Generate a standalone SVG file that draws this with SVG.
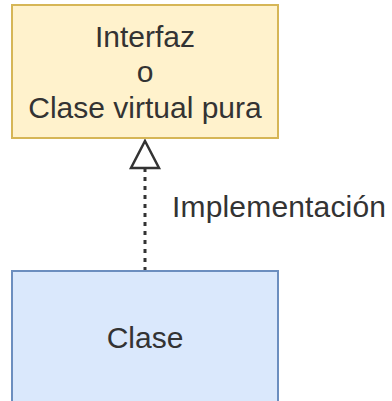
<svg xmlns="http://www.w3.org/2000/svg" width="392" height="401" viewBox="0 0 392 401">
  <style>
    .lbl { font-family: "Liberation Sans", Arial, sans-serif; font-size: 30px; fill: #333333; }
    .mid { text-anchor: middle; }
    .iface { fill: #fff2cc; stroke: #d6b656; stroke-width: 2; }
    .cls { fill: #dae8fc; stroke: #6c8ebf; stroke-width: 2; }
    .edge { fill: none; stroke: #333333; stroke-width: 3; stroke-dasharray: 4 5; }
    .head { fill: #ffffff; stroke: #333333; stroke-width: 2.5; }
  </style>
  <rect width="392" height="401" fill="#ffffff"/>
  <g id="connectors">
    <!-- dashed realization line with hollow triangle head -->
    <line class="edge" x1="145" y1="168" x2="145" y2="271"/>
    <path class="head" d="M145 141 L159 168 L131 168 Z"/>
    <text class="lbl" x="172" y="217" textLength="214">Implementación</text>
  </g>
  <g id="interfaz">
    <rect class="iface" x="12" y="5" width="266" height="133"/>
    <text class="lbl mid" x="145" y="47">Interfaz</text>
    <text class="lbl mid" x="145" y="82">o</text>
    <text class="lbl mid" x="145" y="118">Clase virtual pura</text>
  </g>
  <g id="clase">
    <rect class="cls" x="12" y="271" width="266" height="140"/>
    <text class="lbl mid" x="145" y="348">Clase</text>
  </g>
</svg>
